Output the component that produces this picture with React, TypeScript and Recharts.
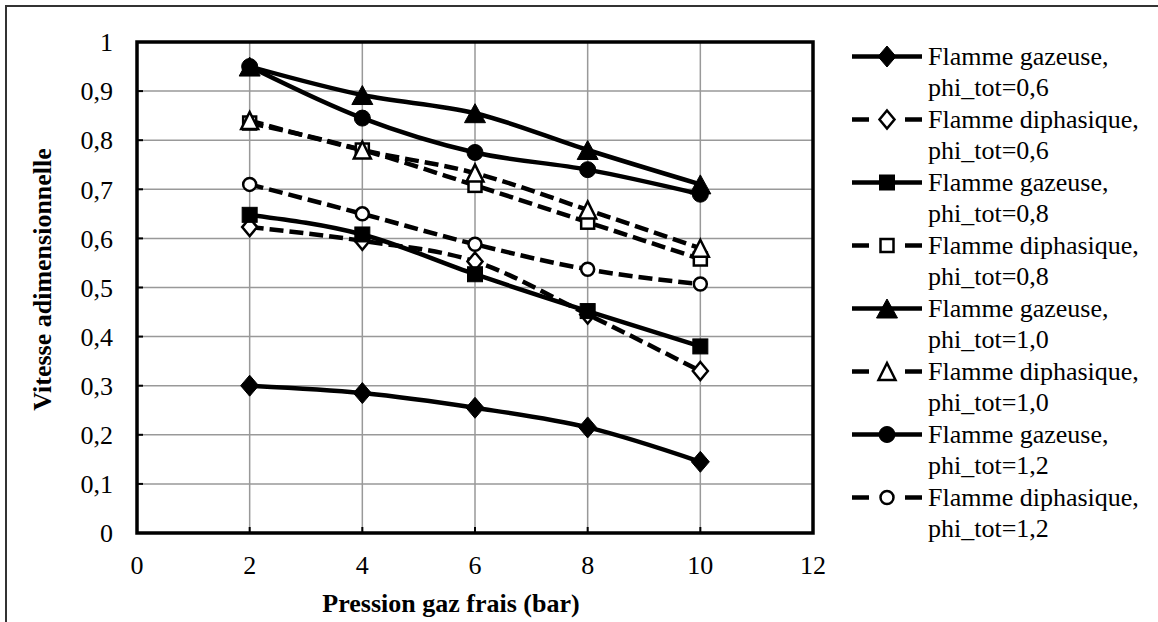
import { LineChart, Line, XAxis, YAxis, CartesianGrid, ReferenceArea, Legend, Label } from 'recharts'

const pressure = [2, 4, 6, 8, 10]
const gaz06 = [0.3, 0.285, 0.255, 0.215, 0.145]
const diph06 = [0.623, 0.595, 0.553, 0.445, 0.33]
const gaz08 = [0.648, 0.608, 0.527, 0.452, 0.38]
const diph08 = [0.835, 0.78, 0.708, 0.633, 0.558]
const gaz10 = [0.95, 0.892, 0.855, 0.78, 0.71]
const diph10 = [0.84, 0.78, 0.733, 0.658, 0.58]
const gaz12 = [0.95, 0.845, 0.775, 0.74, 0.69]
const diph12 = [0.71, 0.65, 0.588, 0.537, 0.507]

const xTicks = [0, 2, 4, 6, 8, 10, 12]
const yTicks = [0, 0.1, 0.2, 0.3, 0.4, 0.5, 0.6, 0.7, 0.8, 0.9, 1]

const series = [
  { key: 'gaz06', values: gaz06, line1: 'Flamme gazeuse,', line2: 'phi_tot=0,6', shape: 'diamond', filled: true },
  { key: 'diph06', values: diph06, line1: 'Flamme diphasique,', line2: 'phi_tot=0,6', shape: 'diamond', filled: false },
  { key: 'gaz08', values: gaz08, line1: 'Flamme gazeuse,', line2: 'phi_tot=0,8', shape: 'square', filled: true },
  { key: 'diph08', values: diph08, line1: 'Flamme diphasique,', line2: 'phi_tot=0,8', shape: 'square', filled: false },
  { key: 'gaz10', values: gaz10, line1: 'Flamme gazeuse,', line2: 'phi_tot=1,0', shape: 'triangle', filled: true },
  { key: 'diph10', values: diph10, line1: 'Flamme diphasique,', line2: 'phi_tot=1,0', shape: 'triangle', filled: false },
  { key: 'gaz12', values: gaz12, line1: 'Flamme gazeuse,', line2: 'phi_tot=1,2', shape: 'circle', filled: true },
  { key: 'diph12', values: diph12, line1: 'Flamme diphasique,', line2: 'phi_tot=1,2', shape: 'circle', filled: false },
]

const data = pressure.map((p, i) => {
  const row: any = { p }
  series.forEach(s => { row[s.key] = s.values[i] })
  return row
})

const FONT = '"Liberation Serif", "Times New Roman", serif'
const DASH = '14 6'

const fmt = (v: number) => (v === 0 || v === 1 ? String(v) : v.toFixed(1).replace('.', ','))

function Marker({ cx, cy, shape, filled }: any) {
  if (cx == null || cy == null) return null
  const fill = filled ? '#000' : '#fff'
  const sw = filled ? 1 : 2.5
  const common = { fill, stroke: '#000', strokeWidth: sw, strokeDasharray: 'none' }
  if (shape === 'diamond') {
    const w = filled ? 9 : 7.5
    const h = filled ? 10.5 : 9
    return <polygon points={`${cx},${cy - h} ${cx + w},${cy} ${cx},${cy + h} ${cx - w},${cy}`} {...common} />
  }
  if (shape === 'square') {
    const s = filled ? 7.5 : 6.5
    return <rect x={cx - s} y={cy - s} width={s * 2} height={s * 2} {...common} />
  }
  if (shape === 'triangle') {
    const w = filled ? 10.5 : 8.5
    const h = filled ? 9.5 : 8.5
    return <polygon points={`${cx},${cy - h} ${cx + w},${cy + h} ${cx - w},${cy + h}`} {...common} />
  }
  const r = filled ? 8 : 6.5
  return <circle cx={cx} cy={cy} r={r} {...common} />
}

function YTick({ x, y, payload }: any) {
  return (
    <g>
      <text x={x} y={y} dy="0.355em" textAnchor="end" fontFamily={FONT} fontSize={26} fill="#000">
        {fmt(payload.value)}
      </text>
      <line x1={x + 24} x2={x + 30} y1={y} y2={y} stroke="#000" strokeWidth={2} />
    </g>
  )
}

function XTick({ x, y, payload }: any) {
  return (
    <g>
      <text x={x} y={y} dy="0.71em" textAnchor="middle" fontFamily={FONT} fontSize={26} fill="#000">
        {payload.value}
      </text>
      <line x1={x} x2={x} y1={y - 23} y2={y - 29} stroke="#000" strokeWidth={2} />
    </g>
  )
}

function LegendBox() {
  return (
    <div style={{ fontFamily: FONT, fontSize: 26, color: '#000' }}>
      {series.map(s => (
        <div key={s.key} style={{ display: 'flex', alignItems: 'flex-start', height: 63 }}>
          <svg width={76} height={31} style={{ flex: 'none' }}>
            {s.filled ? (
              <line x1={0} x2={70} y1={15.5} y2={15.5} stroke="#000" strokeWidth={4.5} />
            ) : (
              <g>
                <line x1={0} x2={17} y1={15.5} y2={15.5} stroke="#000" strokeWidth={4.5} />
                <line x1={53} x2={70} y1={15.5} y2={15.5} stroke="#000" strokeWidth={4.5} />
              </g>
            )}
            <Marker cx={35} cy={15.5} shape={s.shape} filled={s.filled} />
          </svg>
          <div style={{ lineHeight: '31px', whiteSpace: 'nowrap' }}>
            <div>{s.line1}</div>
            <div>{s.line2}</div>
          </div>
        </div>
      ))}
    </div>
  )
}

export default function App() {
  return (
    <div style={{ position: 'absolute', left: 0, top: 0, width: 1158, height: 622, background: '#fff', overflow: 'hidden' }}>
      <div
        style={{
          position: 'absolute',
          left: 5,
          top: 5,
          width: 1160,
          height: 625,
          border: '2px solid #333',
          boxSizing: 'border-box',
        }}
      />
      <LineChart width={1158} height={622} data={data} margin={{ top: 42, right: 345, left: 0, bottom: 0 }}>
        <CartesianGrid stroke="#999" strokeWidth={1.5} />
        <XAxis
          dataKey="p"
          type="number"
          domain={[0, 12]}
          ticks={xTicks}
          height={89}
          axisLine={false}
          tickLine={false}
          tickSize={0}
          tickMargin={23}
          tick={<XTick />}
          interval={0}
        >
          <Label
            content={({ viewBox }: any) => (
              <text
                x={viewBox.x + viewBox.width / 2 - 24}
                y={viewBox.y + 70}
                dy="0.355em"
                textAnchor="middle"
                fontFamily={FONT}
                fontSize={26}
                fontWeight="bold"
                fill="#000"
              >
                Pression gaz frais (bar)
              </text>
            )}
          />
        </XAxis>
        <YAxis
          type="number"
          domain={[0, 1]}
          ticks={yTicks}
          width={137}
          axisLine={false}
          tickLine={false}
          tickSize={0}
          tickMargin={24}
          tick={<YTick />}
          interval={0}
        >
          <Label
            content={({ viewBox }: any) => {
              const cx = viewBox.x + 42
              const cy = viewBox.y + viewBox.height / 2 - 8
              return (
                <text
                  x={cx}
                  y={cy}
                  dy="0.355em"
                  transform={`rotate(-90 ${cx} ${cy})`}
                  textAnchor="middle"
                  fontFamily={FONT}
                  fontSize={26}
                  fontWeight="bold"
                  fill="#000"
                >
                  Vitesse adimensionnelle
                </text>
              )
            }}
          />
        </YAxis>
        <ReferenceArea x1={0} x2={12} y1={0} y2={1} fill="none" stroke="#000" strokeWidth={3.5} ifOverflow="visible" />
        {series.map(s => (
          <Line
            key={s.key}
            dataKey={s.key}
            type="monotone"
            stroke="#000"
            strokeWidth={4.5}
            strokeDasharray={s.filled ? undefined : DASH}
            isAnimationActive={false}
            dot={(props: any) => (
              <Marker key={`${s.key}-${props.index}`} cx={props.cx} cy={props.cy} shape={s.shape} filled={s.filled} />
            )}
            activeDot={false}
          />
        ))}
        <Legend
          layout="vertical"
          align="center"
          verticalAlign="middle"
          content={() => <LegendBox />}
          wrapperStyle={{ left: 852, top: 40.5, width: 300 }}
        />
      </LineChart>
    </div>
  )
}
